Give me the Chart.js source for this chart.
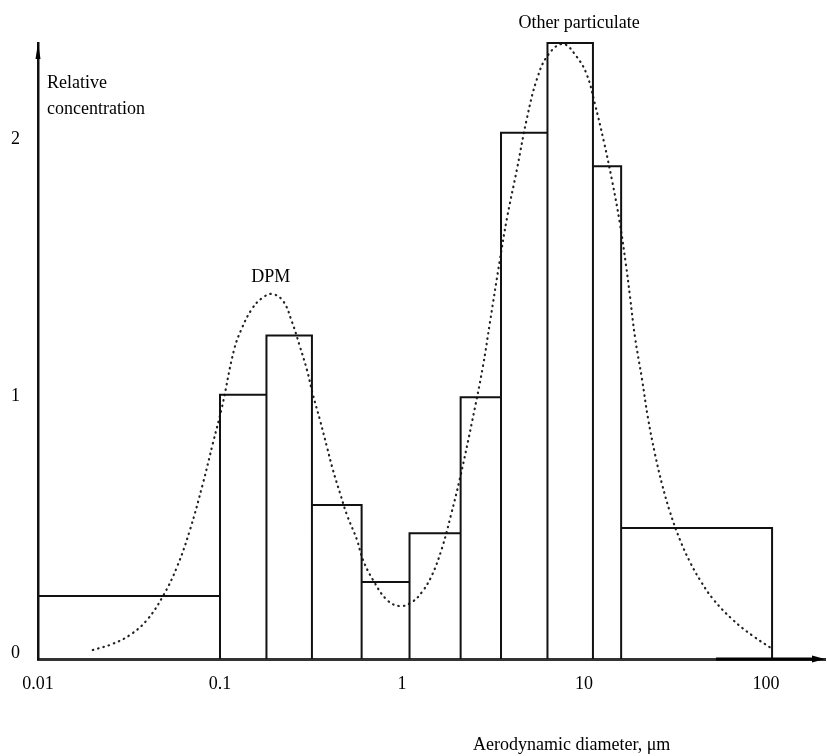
<!DOCTYPE html>
<html lang="en">

<head>
  <meta charset="UTF-8">
  <title>Relative concentration</title>
  <script src="https://cdn.jsdelivr.net/npm/chart.js"></script>
  <style>
    html, body { margin: 0; padding: 0; background: #fff; }
    #grafico { display: block; }
  </style>
</head>

<body>
  <canvas id="grafico" width="827" height="756"></canvas>

<script>
  // class limits (um) and height of each histogram bar
  var limites = [0.01, 0.1, 0.18, 0.32, 0.6, 1.1, 2.1, 3.5, 6.3, 11.2, 16, 108];
  var alturas = [0.245, 1.03, 1.26, 0.60, 0.30, 0.49, 1.02, 2.05, 2.40, 1.92, 0.51];

  // dotted size distribution curve
  var curvaX = [0.020, 0.0255, 0.032, 0.0397, 0.0486, 0.058, 0.0684, 0.0807, 0.0915, 0.1026,
    0.1194, 0.1321, 0.1499, 0.1702, 0.1931, 0.222, 0.2487, 0.2752, 0.3006, 0.3243,
    0.3543, 0.3871, 0.4177, 0.4562, 0.4985, 0.5658, 0.6105, 0.693, 0.8273, 0.975,
    1.135, 1.288, 1.462, 1.659, 1.858, 2.083, 2.424, 2.787, 3.045, 3.456,
    3.775, 4.284, 4.862, 5.518, 6.343, 7.665, 9.153, 10.39, 11.49, 12.88,
    14.25, 15.77, 17.01, 17.89, 19.06, 20.83, 22.47, 24.55, 26.83, 29.68,
    33.7, 38.23, 43.4, 51.14, 65.89, 84.85, 106.5];
  var curvaY = [0.035, 0.058, 0.0935, 0.152, 0.245, 0.358, 0.503, 0.686, 0.842, 0.982,
    1.204, 1.290, 1.364, 1.406, 1.422, 1.395, 1.313, 1.216, 1.126, 1.029,
    0.931, 0.826, 0.736, 0.647, 0.561, 0.464, 0.386, 0.308, 0.230, 0.206,
    0.222, 0.261, 0.327, 0.432, 0.561, 0.705, 0.923, 1.142, 1.313, 1.558,
    1.718, 1.909, 2.108, 2.260, 2.353, 2.396, 2.345, 2.275, 2.162, 2.014,
    1.866, 1.695, 1.535, 1.414, 1.255, 1.091, 0.939, 0.799, 0.682, 0.573,
    0.464, 0.378, 0.308, 0.234, 0.152, 0.0896, 0.043];

  var ticksX = [0.01, 0.1, 1, 10, 100];
  var rotulosX = ['0.01', '0.1', '1', '10', '100'];
  var ticksY = [0, 1, 2];
  var rotulosY = ['0', '1', '2'];

  var fonte = "'Liberation Serif', 'Times New Roman', serif";
  Chart.defaults.font.family = fonte;
  Chart.defaults.font.size = 18;
  Chart.defaults.color = '#000';

  // histogram outline: each bar is a closed box standing on the axis
  var contorno = [];
  for (var i = 0; i < alturas.length; i++) {
    contorno.push({ x: limites[i], y: 0 });
    contorno.push({ x: limites[i], y: alturas[i] });
    contorno.push({ x: limites[i + 1], y: alturas[i] });
    contorno.push({ x: limites[i + 1], y: 0 });
  }

  var curva = [];
  for (var j = 0; j < curvaX.length; j++) {
    curva.push({ x: curvaX[j], y: curvaY[j] });
  }

  var anotacoes = {
    id: 'anotacoes',
    afterDraw: function (chart) {
      var ctx = chart.ctx;
      var a = chart.chartArea;
      ctx.save();

      // darker end of the x axis and arrow heads
      ctx.strokeStyle = '#000';
      ctx.lineWidth = 3;
      ctx.beginPath();
      ctx.moveTo(716, a.bottom);
      ctx.lineTo(a.right - 10, a.bottom);
      ctx.stroke();

      ctx.fillStyle = '#000';
      ctx.beginPath();
      ctx.moveTo(a.right, a.bottom);
      ctx.lineTo(a.right - 13, a.bottom - 3.5);
      ctx.lineTo(a.right - 13, a.bottom + 3.5);
      ctx.closePath();
      ctx.fill();

      ctx.beginPath();
      ctx.moveTo(a.left, a.top);
      ctx.lineTo(a.left - 2.5, a.top + 16);
      ctx.lineTo(a.left + 2.5, a.top + 16);
      ctx.closePath();
      ctx.fill();

      // labels
      ctx.font = '18px ' + fonte;
      ctx.textBaseline = 'alphabetic';
      ctx.textAlign = 'left';
      ctx.fillText('Relative', a.left + 9, 88);
      ctx.fillText('concentration', a.left + 9, 114);

      var x = chart.scales.x;
      ctx.textAlign = 'center';
      ctx.fillText('DPM', x.getPixelForValue(0.19), 282);
      ctx.fillText('Other particulate', x.getPixelForValue(9.4), 28);

      ctx.textAlign = 'left';
      ctx.fillText('Aerodynamic diameter, \u03bcm', 473, 750);
      ctx.restore();
    }
  };

  new Chart(document.getElementById('grafico'), {
    type: 'line',
    data: {
      datasets: [{
        label: 'Histogram',
        data: contorno,
        borderColor: '#111',
        borderWidth: 2,
        pointRadius: 0,
        tension: 0,
        fill: false,
        clip: false
      }, {
        label: 'Distribution',
        data: curva,
        borderColor: '#222',
        borderWidth: 2.2,
        borderDash: [0.5, 5],
        borderCapStyle: 'round',
        pointRadius: 0,
        tension: 0.4,
        fill: false,
        clip: false
      }]
    },
    options: {
      responsive: false,
      animation: false,
      devicePixelRatio: 1,
      layout: { padding: { left: 0, top: 43, right: 2, bottom: 0 } },
      plugins: {
        legend: { display: false },
        tooltip: { enabled: false }
      },
      scales: {
        x: {
          type: 'logarithmic',
          min: 0.01,
          max: 211,
          grid: { display: false, drawTicks: false },
          border: { display: true, color: '#333', width: 3 },
          afterBuildTicks: function (s) {
            s.ticks = ticksX.map(function (v) { return { value: v }; });
          },
          afterFit: function (s) { s.height = 97; },
          ticks: {
            autoSkip: false,
            maxRotation: 0,
            padding: 14,
            callback: function (value) {
              return rotulosX[ticksX.indexOf(value)];
            }
          }
        },
        y: {
          type: 'linear',
          min: 0,
          max: 2.4,
          grid: { display: false, drawTicks: false },
          border: { display: true, color: '#111', width: 2.5 },
          afterBuildTicks: function (s) {
            s.ticks = ticksY.map(function (v) { return { value: v }; });
          },
          afterFit: function (s) { s.width = 38; },
          ticks: {
            padding: 18,
            labelOffset: -6,
            callback: function (value) {
              return rotulosY[ticksY.indexOf(value)];
            }
          }
        }
      }
    },
    plugins: [anotacoes]
  });
</script>
</body>

</html>
